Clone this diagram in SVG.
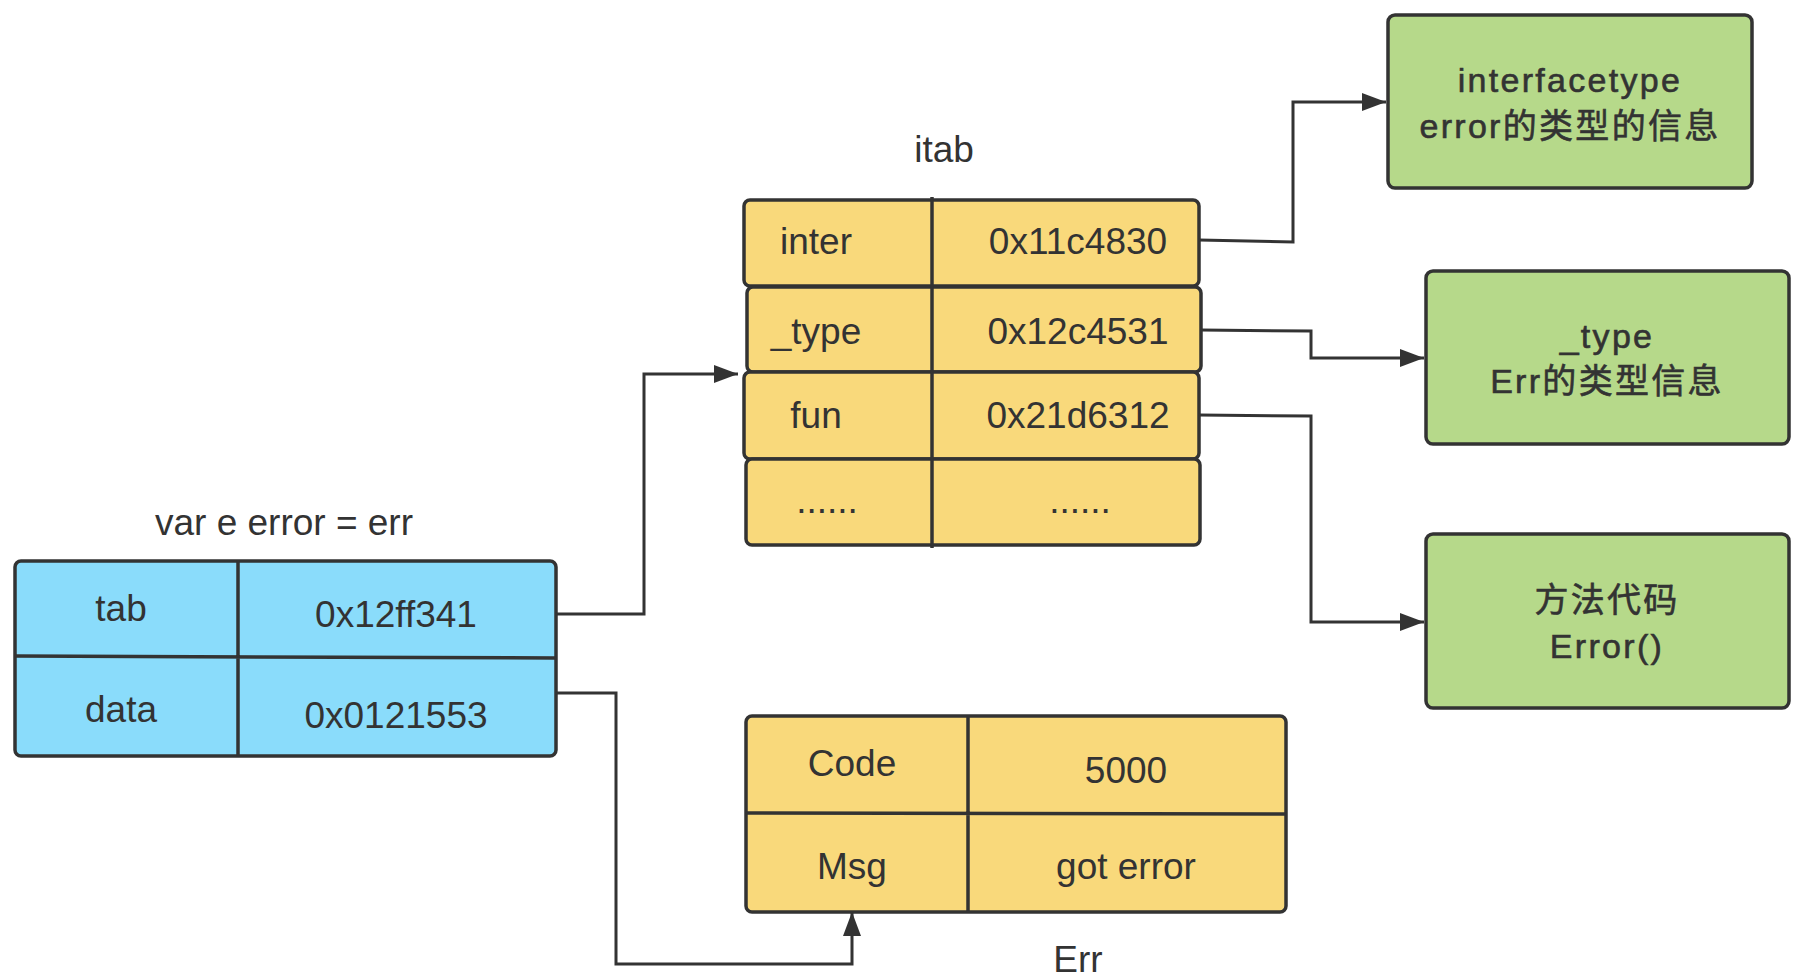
<svg xmlns="http://www.w3.org/2000/svg" width="1794" height="980" viewBox="0 0 1794 980">
<style>
.t{font-family:"Liberation Sans","Noto Sans CJK SC",sans-serif;font-size:37px;fill:#333;text-anchor:middle;dominant-baseline:central}
.g{font-family:"Liberation Sans","Noto Sans CJK SC",sans-serif;font-size:34px;fill:#333;stroke:#333;stroke-width:0.6;text-anchor:middle;dominant-baseline:central;letter-spacing:2.3px}
.bx{stroke:#333;stroke-width:3.5}
.ln{stroke:#333;stroke-width:3.5;fill:none}
.blue{fill:#8ADCFB}
.yel{fill:#F9D97B}
.grn{fill:#B6D98A}
.c{stroke:#333;stroke-width:3;fill:none}
</style>
<defs>
<marker id="arr" viewBox="0 0 24 18" refX="24" refY="9" markerWidth="24" markerHeight="18" markerUnits="userSpaceOnUse" orient="auto">
<path d="M0,0 L24,9 L0,18 z" fill="#333"/>
</marker>
</defs>

<g id="eface">
<text class="t" x="284" y="522">var e error = err</text>
<rect class="bx blue" x="15" y="561" width="541" height="195" rx="6"/>
<path class="ln" d="M238,561 V756 M15,656 L556,658"/>
<text class="t" x="121" y="608">tab</text>
<text class="t" x="396" y="614">0x12ff341</text>
<text class="t" x="121" y="709">data</text>
<text class="t" x="396" y="715">0x0121553</text>
</g>

<g id="itab">
<text class="t" x="944" y="149">itab</text>
<rect class="bx yel" x="744" y="200" width="455" height="86" rx="6"/>
<rect class="bx yel" x="747" y="287" width="454" height="85" rx="6"/>
<rect class="bx yel" x="744" y="372" width="455" height="87" rx="6"/>
<rect class="bx yel" x="746" y="459" width="454" height="86" rx="6"/>
<path class="ln" d="M932,197 V548"/>
<text class="t" x="816" y="241">inter</text>
<text class="t" x="1078" y="241">0x11c4830</text>
<text class="t" x="816" y="331">_type</text>
<text class="t" x="1078" y="331">0x12c4531</text>
<text class="t" x="816" y="415">fun</text>
<text class="t" x="1078" y="415">0x21d6312</text>
<text class="t" x="827" y="500">......</text>
<text class="t" x="1080" y="500">......</text>
</g>

<g id="err">
<rect class="bx yel" x="746" y="716" width="540" height="196" rx="6"/>
<path class="ln" d="M968,716 V912 M746,813 L1286,814"/>
<text class="t" x="852" y="763">Code</text>
<text class="t" x="1126" y="770">5000</text>
<text class="t" x="852" y="866">Msg</text>
<text class="t" x="1126" y="866">got error</text>
<text class="t" x="1078" y="959">Err</text>
</g>

<g id="interfacetype">
<rect class="bx grn" x="1388" y="15" width="364" height="173" rx="7"/>
<text class="g" x="1570" y="80">interfacetype</text>
<text class="g" x="1570" y="126">error的类型的信息</text>
</g>

<g id="typeinfo">
<rect class="bx grn" x="1426" y="271" width="363" height="173" rx="7"/>
<text class="g" x="1607" y="336">_type</text>
<text class="g" x="1607" y="381">Err的类型信息</text>
</g>

<g id="method">
<rect class="bx grn" x="1426" y="534" width="363" height="174" rx="7"/>
<text class="g" x="1607" y="600">方法代码</text>
<text class="g" x="1607" y="646">Error()</text>
</g>

<g id="connectors">
<path class="c" d="M556,614 H644 V374 H738" marker-end="url(#arr)"/>
<path class="c" d="M556,693 H616 V964 H852 V912" marker-end="url(#arr)"/>
<path class="c" d="M1199,240 L1293,242 V102 H1386" marker-end="url(#arr)"/>
<path class="c" d="M1201,330 L1311,331 V358 H1424" marker-end="url(#arr)"/>
<path class="c" d="M1199,415 L1311,416 V622 H1424" marker-end="url(#arr)"/>
</g>
</svg>
